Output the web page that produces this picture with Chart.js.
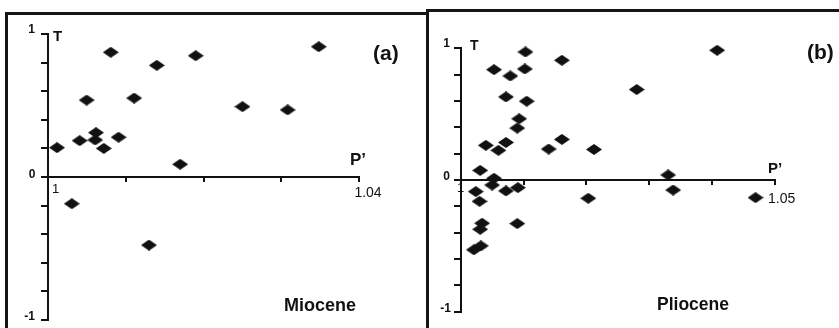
<!DOCTYPE html>
<html>
<head>
<meta charset="utf-8">
<script src="https://cdn.jsdelivr.net/npm/chart.js@4.4.1/dist/chart.umd.min.js"></script>
<style>
  body { margin: 0; background: #fff; }
  #wrap { position: relative; width: 839px; height: 328px; overflow: hidden; }
  .line { position: absolute; background: #161616; }
  canvas { position: absolute; left: 0; top: 0; }
</style>
</head>
<body>
<div id="wrap">
  <div class="line" style="left:5px;top:12px;width:424px;height:3px"></div>
  <div class="line" style="left:5px;top:12px;width:3px;height:316px"></div>
  <div class="line" style="left:426px;top:9px;width:3px;height:319px"></div>
  <div class="line" style="left:426px;top:9px;width:413px;height:3px"></div>
  <canvas id="chartA" width="839" height="328"></canvas>
  <canvas id="chartB" width="839" height="328"></canvas>
</div>
<script>
// Miocene (a): P' and T
const mioceneP = [1.0012, 1.0041, 1.0050, 1.0062, 1.0061, 1.0072, 1.0081, 1.0091, 1.0111,
                  1.0140, 1.0130, 1.0170, 1.0190, 1.0250, 1.0308, 1.0348, 1.0031];
const mioceneT = [0.205, 0.254, 0.538, 0.31, 0.259, 0.20, 0.872, 0.278, 0.552,
                  0.781, -0.476, 0.089, 0.848, 0.492, 0.469, 0.911, -0.187];

// Pliocene (b): P' and T
const plioceneP = [1.0103, 1.0161, 1.0053, 1.0102, 1.0079, 1.0072, 1.0105, 1.0093, 1.0090,
                   1.0040, 1.0072, 1.0060, 1.0140, 1.0161, 1.0212, 1.0280, 1.0408, 1.0031,
                   1.0053, 1.0050, 1.0024, 1.0072, 1.0091, 1.0030, 1.0034, 1.0031, 1.0090,
                   1.0032, 1.0021, 1.0203, 1.0330, 1.0338, 1.0469];
const plioceneT = [0.972, 0.909, 0.838, 0.843, 0.790, 0.631, 0.598, 0.465, 0.394,
                   0.263, 0.285, 0.225, 0.235, 0.308, 0.232, 0.687, 0.985, 0.073,
                   0.013, -0.038, -0.088, -0.083, -0.058, -0.162, -0.328, -0.374, -0.331,
                   -0.50, -0.53, -0.139, 0.038, -0.076, -0.134];

// tick labels
const yTickLabels = ['1', '0', '-1'];
const mioceneXLabels = ['1', '1.04'];
const plioceneXLabels = ['1', '1.05'];

function diamond(w, h) {
  const c = document.createElement('canvas');
  c.width = w; c.height = h;
  const g = c.getContext('2d');
  g.fillStyle = '#111';
  g.beginPath();
  g.moveTo(0, h / 2);
  g.lineTo(w / 2, 0);
  g.lineTo(w, h / 2);
  g.lineTo(w / 2, h);
  g.closePath();
  g.fill();
  return c;
}

// draws the axis labels and panel titles
const textPlugin = {
  id: 'panelText',
  beforeDatasetsDraw(chart, args, opts) {
    const ctx = chart.ctx;
    ctx.save();
    ctx.fillStyle = '#111';
    ctx.textBaseline = 'alphabetic';
    opts.items.forEach(t => {
      ctx.font = t.font + ' "Liberation Sans", Arial, sans-serif';
      ctx.textAlign = t.align || 'left';
      ctx.fillText(t.text, t.x, t.y);
    });
    ctx.restore();
  }
};

function makeChart(id, P, T, xMax, padding, items) {
  const axisStyle = { display: true, width: 2, color: '#111' };
  return new Chart(document.getElementById(id), {
    type: 'scatter',
    data: {
      datasets: [{
        data: P.map((p, i) => ({ x: p, y: T[i] })),
        pointStyle: diamond(16, 11),
        pointRadius: 6,
        clip: false
      }]
    },
    options: {
      responsive: false,
      devicePixelRatio: 1,
      animation: false,
      layout: { padding },
      plugins: { legend: { display: false }, tooltip: { enabled: false }, panelText: { items } },
      scales: {
        x: {
          type: 'linear', min: 1, max: xMax, position: { y: 0 },
          ticks: { display: false, stepSize: 0.01 },
          grid: { drawOnChartArea: false, drawTicks: true, tickLength: 4, lineWidth: 2, color: '#111' },
          border: axisStyle
        },
        y: {
          type: 'linear', min: -1, max: 1, position: { x: 1 },
          ticks: { display: false, stepSize: 0.2 },
          grid: { drawOnChartArea: false, drawTicks: true, tickLength: 6, lineWidth: 2, color: '#111' },
          border: axisStyle
        }
      }
    },
    plugins: [textPlugin]
  });
}

makeChart('chartA', mioceneP, mioceneT, 1.04,
  { left: 47.7, top: 34, right: 479.7, bottom: 8 },
  [
    { text: yTickLabels[0], x: 35, y: 33, font: 'bold 12px', align: 'right' },
    { text: yTickLabels[1], x: 35.5, y: 178, font: 'bold 12px', align: 'right' },
    { text: yTickLabels[2], x: 35, y: 320, font: 'bold 12px', align: 'right' },
    { text: 'T', x: 53, y: 41, font: 'bold 15px' },
    { text: mioceneXLabels[0], x: 52, y: 193, font: '13px' },
    { text: mioceneXLabels[1], x: 368, y: 197, font: '14px', align: 'center' },
    { text: 'P\u2019', x: 350, y: 165, font: 'bold 17px' },
    { text: '(a)', x: 373, y: 60, font: 'bold 21px' },
    { text: 'Miocene', x: 284, y: 311, font: 'bold 18px' }
  ]);

makeChart('chartB', plioceneP, plioceneT, 1.05,
  { left: 460.7, top: 48.3, right: 64, bottom: 16.3 },
  [
    { text: yTickLabels[0], x: 450, y: 47, font: 'bold 12px', align: 'right' },
    { text: yTickLabels[1], x: 450, y: 180, font: 'bold 12px', align: 'right' },
    { text: yTickLabels[2], x: 451, y: 312, font: 'bold 12px', align: 'right' },
    { text: 'T', x: 470, y: 50, font: 'bold 14px' },
    { text: plioceneXLabels[0], x: 457, y: 192, font: '13px' },
    { text: plioceneXLabels[1], x: 768, y: 203, font: '14px' },
    { text: 'P\u2019', x: 768, y: 173, font: 'bold 15px' },
    { text: '(b)', x: 807, y: 59, font: 'bold 21px' },
    { text: 'Pliocene', x: 657, y: 310, font: 'bold 17.5px' }
  ]);
</script>
</body>
</html>
